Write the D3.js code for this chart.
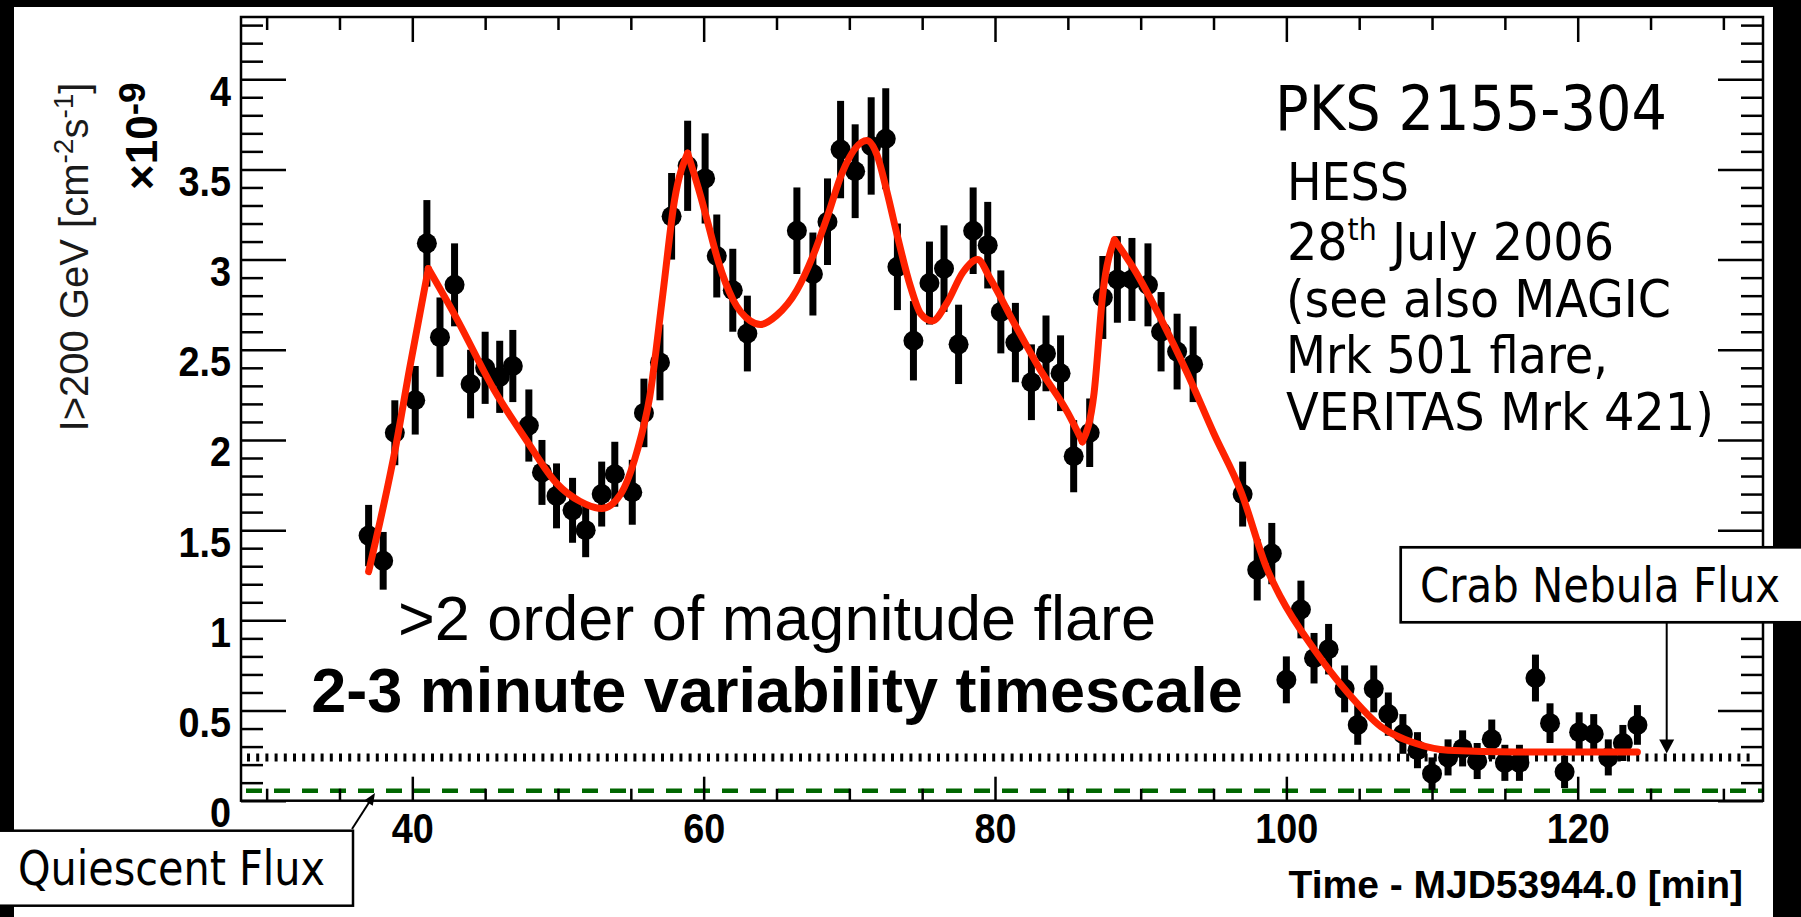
<!DOCTYPE html>
<html>
<head>
<meta charset="utf-8">
<script src="https://cdn.jsdelivr.net/npm/d3@7"></script>
<style>
  body { margin: 0; background: #000; overflow: hidden; }
  .tick line { stroke: #000; stroke-width: 2.5; }
  .tick text { font-family: "Liberation Sans", Arial, sans-serif; font-weight: bold; font-size: 42px; fill: #000; }
</style>
</head>
<body>
<div id="chart"></div>
<script>
// light curve points (1 min bins)
const runTimes = [
  37.0, 38.0, 38.8, 40.2, 41.0, 41.9, 42.9, 44.0, 45.0, 46.0, 46.9, 48.0, 48.9, 49.9,
  51.0, 51.9, 53.0, 53.9, 55.1, 55.9, 57.0, 57.8, 58.9, 60.1, 60.9, 62.0, 63.0,
  66.4, 67.5, 68.5, 69.4, 70.4, 71.5, 72.5, 73.3, 74.4, 75.5, 76.5, 77.5, 78.5, 79.5,
  80.4, 81.4, 82.5, 83.5, 84.5, 85.4, 86.5, 87.4, 88.4, 89.4, 90.5, 91.4, 92.5, 93.6,
  97.0, 98.0, 99.0, 100.0, 101.0, 101.9, 102.9, 104.0, 104.9, 106.0, 107.0, 108.0, 109.0,
  110.0, 111.1, 112.1, 113.1, 114.1, 115.0, 116.0, 117.1, 118.1, 119.1, 120.1, 121.1,
  122.1, 123.1, 124.1
];
const fluxValues = [
  1.47, 1.33, 2.04, 2.22, 3.09, 2.57, 2.86, 2.31, 2.40, 2.35, 2.41, 2.08, 1.82, 1.69,
  1.61, 1.50, 1.70, 1.81, 1.71, 2.15, 2.43, 3.24, 3.52, 3.45, 3.02, 2.83, 2.59,
  3.16, 2.92, 3.21, 3.61, 3.49, 3.63, 3.67, 2.96, 2.55, 2.87, 2.95, 2.53, 3.16, 3.08,
  2.71, 2.54, 2.32, 2.48, 2.37, 1.91, 2.04, 2.79, 2.89, 2.89, 2.86, 2.60, 2.49, 2.42,
  1.70, 1.28, 1.37, 0.67, 1.06, 0.79, 0.84, 0.62, 0.42, 0.62, 0.48, 0.37, 0.28,
  0.15, 0.24, 0.29, 0.22, 0.34, 0.21, 0.21, 0.68, 0.43, 0.16, 0.38, 0.37,
  0.24, 0.32, 0.42
];
const fluxErrors = [
  0.17, 0.16, 0.18, 0.19, 0.24, 0.22, 0.23, 0.19, 0.20, 0.20, 0.20, 0.20, 0.18, 0.18,
  0.18, 0.15, 0.18, 0.18, 0.18, 0.19, 0.21, 0.24, 0.25, 0.25, 0.23, 0.23, 0.21,
  0.24, 0.23, 0.24, 0.27, 0.26, 0.27, 0.28, 0.24, 0.22, 0.23, 0.24, 0.22, 0.24, 0.24,
  0.23, 0.22, 0.21, 0.21, 0.21, 0.20, 0.19, 0.23, 0.24, 0.23, 0.23, 0.22, 0.21, 0.21,
  0.18, 0.17, 0.17, 0.13, 0.16, 0.14, 0.14, 0.13, 0.11, 0.13, 0.12, 0.11, 0.10,
  0.09, 0.10, 0.10, 0.10, 0.11, 0.10, 0.10, 0.13, 0.11, 0.09, 0.11, 0.11,
  0.10, 0.10, 0.11
];

// fitted pulse model (red curve)
const fitTimes = [
  37.0, 38.9, 39.8, 41.1, 43.0, 45.6, 47.9, 49.9, 51.5, 53.0, 54.3, 55.4, 56.3, 57.2,
  58.0, 58.9, 59.8, 60.3, 61.0, 62.0, 63.2, 63.9, 65.0, 66.4, 67.5, 68.5, 69.5, 71.2,
  71.9, 72.6, 73.3, 74.2, 74.9, 75.7, 76.7, 77.8, 78.8, 79.7, 81.3, 83.1, 85.0, 86.0,
  86.8, 87.4, 88.2, 89.6, 91.4, 93.2, 95.0, 96.9, 98.7, 99.6, 101.9, 104.2, 106.5,
  108.8, 111.1, 115.7, 124.1
];
const fitValues = [
  1.27, 1.98, 2.39, 2.95, 2.68, 2.28, 1.99, 1.76, 1.66, 1.62, 1.70, 1.93, 2.24, 2.81,
  3.33, 3.59, 3.35, 3.20, 2.99, 2.78, 2.66, 2.64, 2.69, 2.83, 3.02, 3.24, 3.48, 3.66,
  3.58, 3.37, 3.13, 2.85, 2.70, 2.66, 2.76, 2.93, 3.00, 2.89, 2.65, 2.39, 2.15, 1.99,
  2.26, 2.81, 3.11, 2.94, 2.67, 2.37, 2.04, 1.71, 1.28, 1.13, 0.84, 0.60, 0.41,
  0.32, 0.28, 0.27, 0.27
];
// pulse onsets / peaks where the model has a kink
const fitKinks = [41.1, 58.9, 86.0, 88.2];

const crabFlux = 0.24;
const quiescentFlux = 0.055;

const xMajor = [40, 60, 80, 100, 120];
const xMinor = [30, 35, 45, 50, 55, 65, 70, 75, 85, 90, 95, 105, 110, 115, 125, 130];
const yMajor = [0, 0.5, 1, 1.5, 2, 2.5, 3, 3.5, 4];
const yMinor = [0.1, 0.2, 0.3, 0.4, 0.6, 0.7, 0.8, 0.9, 1.1, 1.2, 1.3, 1.4, 1.6, 1.7, 1.8, 1.9,
  2.1, 2.2, 2.3, 2.4, 2.6, 2.7, 2.8, 2.9, 3.1, 3.2, 3.3, 3.4, 3.6, 3.7, 3.8, 3.9, 4.1, 4.2, 4.3];

const infoLines = ["HESS", "28", " July 2006", "(see also MAGIC", "Mrk 501 flare,", "VERITAS Mrk 421)"];

const W = 1801, H = 917;
const frame = {left: 241, right: 1763, top: 17, bottom: 800.7};
const labelFont = '"DejaVu Sans Condensed", "DejaVu Sans", sans-serif';
const helv = '"Liberation Sans", Arial, sans-serif';

const svg = d3.select("#chart").append("svg")
    .attr("width", W)
    .attr("height", H);

svg.append("rect").attr("width", W).attr("height", H).attr("fill", "#000");
svg.append("rect").attr("x", 14).attr("y", 7).attr("width", 1759).attr("height", H - 7).attr("fill", "#fff");

const x = d3.scaleLinear().domain([28.24, 132.72]).range([frame.left, frame.right]);
const y = d3.scaleLinear().domain([0, 4.345]).range([frame.bottom, frame.top]);

// reference flux levels
svg.append("line")
    .attr("x1", frame.left + 5).attr("x2", frame.right)
    .attr("y1", y(quiescentFlux)).attr("y2", y(quiescentFlux))
    .attr("stroke", "#006600").attr("stroke-width", 4.5)
    .attr("stroke-dasharray", "16,12");

svg.append("line")
    .attr("x1", frame.left + 6).attr("x2", frame.right - 10)
    .attr("y1", y(crabFlux)).attr("y2", y(crabFlux))
    .attr("stroke", "#000").attr("stroke-width", 8)
    .attr("stroke-dasharray", "3,6.2");

// axes, ROOT style ticks pointing inwards
function noDomain(g) { g.select(".domain").remove(); }

svg.append("g").attr("transform", `translate(${frame.left},0)`)
    .call(d3.axisLeft(y).tickValues(yMajor).tickSize(-45).tickPadding(10).tickFormat(d => String(d)))
    .call(noDomain)
    .call(g => g.selectAll("text")
        .attr("x", -10 / 0.9).attr("y", 26).attr("dy", null)
        .attr("transform", "scale(0.9,1)"));
svg.append("g").attr("transform", `translate(${frame.left},0)`)
    .call(d3.axisLeft(y).tickValues(yMinor).tickSize(-22).tickFormat(""))
    .call(noDomain);
svg.append("g").attr("transform", `translate(${frame.right},0)`)
    .call(d3.axisRight(y).tickValues(yMajor).tickSize(-45).tickFormat(""))
    .call(noDomain);
svg.append("g").attr("transform", `translate(${frame.right},0)`)
    .call(d3.axisRight(y).tickValues(yMinor).tickSize(-22).tickFormat(""))
    .call(noDomain);

svg.append("g").attr("transform", `translate(0,${frame.bottom})`)
    .call(d3.axisBottom(x).tickValues(xMajor).tickSize(-24).tickFormat(d => String(d)))
    .call(noDomain)
    .call(g => g.selectAll("text")
        .attr("y", 42).attr("dy", null)
        .attr("transform", "scale(0.9,1)"));
svg.append("g").attr("transform", `translate(0,${frame.bottom})`)
    .call(d3.axisBottom(x).tickValues(xMinor).tickSize(-12).tickFormat(""))
    .call(noDomain);
svg.append("g").attr("transform", `translate(0,${frame.top})`)
    .call(d3.axisTop(x).tickValues(xMajor).tickSize(-25).tickFormat(""))
    .call(noDomain);
svg.append("g").attr("transform", `translate(0,${frame.top})`)
    .call(d3.axisTop(x).tickValues(xMinor).tickSize(-13).tickFormat(""))
    .call(noDomain);

// data points with error bars
const points = runTimes.map((t, i) => ({t: t, v: fluxValues[i], e: fluxErrors[i]}));

svg.append("g").selectAll("line")
    .data(points)
    .join("line")
    .attr("x1", d => x(d.t)).attr("x2", d => x(d.t))
    .attr("y1", d => y(d.v - d.e)).attr("y2", d => y(d.v + d.e))
    .attr("stroke", "#000").attr("stroke-width", 7);

svg.append("g").selectAll("circle")
    .data(points)
    .join("circle")
    .attr("cx", d => x(d.t)).attr("cy", d => y(d.v))
    .attr("r", 10).attr("fill", "#000");

// fit curve, smooth between kinks
const fit = fitTimes.map((t, i) => ({t: t, v: fitValues[i]}));
const segments = [];
let current = [];
fit.forEach(d => {
    current.push(d);
    if (fitKinks.includes(d.t)) {
        segments.push(current);
        current = [d];
    }
});
segments.push(current);

const fitLine = d3.line().x(d => x(d.t)).y(d => y(d.v)).curve(d3.curveMonotoneX);
svg.append("g").selectAll("path")
    .data(segments)
    .join("path")
    .attr("d", fitLine)
    .attr("fill", "none")
    .attr("stroke", "#ff2200")
    .attr("stroke-width", 7)
    .attr("stroke-linejoin", "round")
    .attr("stroke-linecap", "round");

// frame
svg.append("rect")
    .attr("x", frame.left).attr("y", frame.top)
    .attr("width", frame.right - frame.left).attr("height", frame.bottom - frame.top)
    .attr("fill", "none").attr("stroke", "#000").attr("stroke-width", 2.5);

// axis titles
const yTitle = svg.append("text")
    .attr("transform", "translate(88,257) rotate(-90)")
    .attr("text-anchor", "middle")
    .style("font-family", helv).style("font-size", "40px").attr("fill", "#1a1a1a");
yTitle.append("tspan").text("I>200 GeV [cm");
yTitle.append("tspan").attr("dy", -15).style("font-size", "28px").text("-2");
yTitle.append("tspan").attr("dy", 15).text("s");
yTitle.append("tspan").attr("dy", -15).style("font-size", "28px").text("-1");
yTitle.append("tspan").attr("dy", 15).text("]");

const yExp = svg.append("text")
    .attr("transform", "translate(157,190) rotate(-90)")
    .style("font-family", helv).style("font-size", "44px").style("font-weight", "bold");
yExp.append("tspan").text("\u00d710");
yExp.append("tspan").attr("dy", -12).style("font-size", "37px").text("-9");

svg.append("text")
    .attr("x", 1743).attr("y", 898)
    .attr("text-anchor", "end")
    .style("font-family", helv).style("font-size", "39px").style("font-weight", "bold")
    .text("Time - MJD53944.0 [min]");

// main annotation
svg.append("text")
    .attr("x", 777).attr("y", 640).attr("text-anchor", "middle")
    .style("font-family", helv).style("font-size", "63px")
    .text(">2 order of magnitude flare");
svg.append("text")
    .attr("x", 777).attr("y", 712).attr("text-anchor", "middle")
    .style("font-family", helv).style("font-size", "63px").style("font-weight", "bold")
    .text("2-3 minute variability timescale");

// source info
function label(xp, yp, size, len, txt) {
    return svg.append("text")
        .attr("x", xp).attr("y", yp)
        .attr("textLength", len).attr("lengthAdjust", "spacingAndGlyphs")
        .style("font-family", labelFont).style("font-stretch", "condensed")
        .style("font-size", size + "px").attr("fill", "#000")
        .text(txt);
}
label(1275, 130, 62, 392, "PKS 2155-304");
label(1287, 200, 52, 122, infoLines[0]);
const dateLine = svg.append("text")
    .attr("x", 1287).attr("y", 260)
    .attr("textLength", 327).attr("lengthAdjust", "spacingAndGlyphs")
    .style("font-family", labelFont).style("font-stretch", "condensed")
    .style("font-size", "52px");
dateLine.append("tspan").text(infoLines[1]);
dateLine.append("tspan").attr("dy", -20).style("font-size", "31px").text("th");
dateLine.append("tspan").attr("dy", 20).text(infoLines[2]);
label(1286, 317, 52, 385, infoLines[3]);
label(1286, 373, 52, 322, infoLines[4]);
label(1286, 430, 52, 428, infoLines[5]);

// annotation boxes with arrows
function arrowHead(x0, y0, x1, y1, len, half) {
    const dx = x1 - x0, dy = y1 - y0, l = Math.hypot(dx, dy);
    const ux = dx / l, uy = dy / l;
    const bx = x1 - ux * len, by = y1 - uy * len;
    return `M${x1},${y1}L${bx - uy * half},${by + ux * half}L${bx + uy * half},${by - ux * half}Z`;
}

svg.append("rect")
    .attr("x", 1400.7).attr("y", 547.3).attr("width", 430).attr("height", 75)
    .attr("fill", "#fff").attr("stroke", "#000").attr("stroke-width", 2.7);
label(1420, 601.7, 48, 360, "Crab Nebula Flux");
svg.append("line")
    .attr("x1", 1666.7).attr("x2", 1666.7).attr("y1", 622.3).attr("y2", 742)
    .attr("stroke", "#000").attr("stroke-width", 2);
svg.append("path").attr("d", arrowHead(1666.7, 622.3, 1666.7, y(crabFlux) - 4, 14, 7.5)).attr("fill", "#000");

svg.append("rect")
    .attr("x", -5).attr("y", 830.7).attr("width", 358).attr("height", 75)
    .attr("fill", "#fff").attr("stroke", "#000").attr("stroke-width", 2.5);
label(18, 885, 48, 307, "Quiescent Flux");
svg.append("line")
    .attr("x1", 352).attr("y1", 829).attr("x2", 370).attr("y2", 801)
    .attr("stroke", "#000").attr("stroke-width", 2);
svg.append("path").attr("d", arrowHead(352, 829, 375, 793, 12, 5)).attr("fill", "#000");
</script>
</body>
</html>
